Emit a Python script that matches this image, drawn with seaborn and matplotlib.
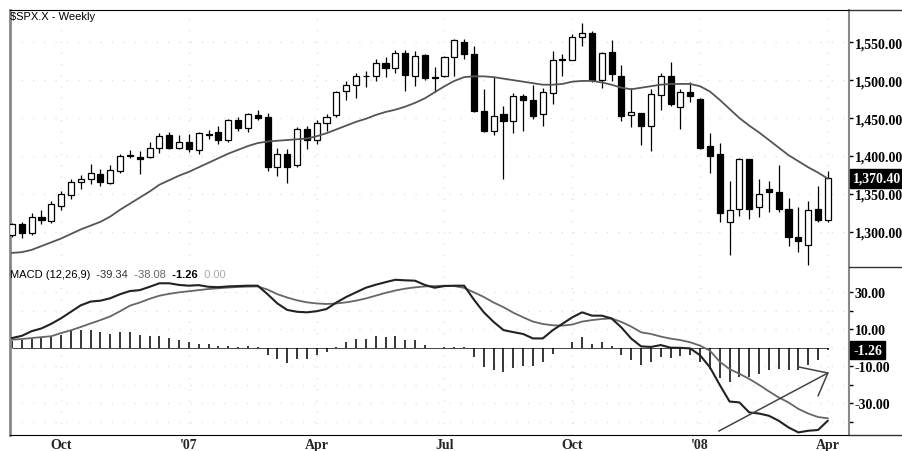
import numpy as np
import pandas as pd
import matplotlib
matplotlib.use('Agg')
import matplotlib.pyplot as plt
from matplotlib.lines import Line2D
import seaborn as sns

# weekly candles, week 0 = end of Aug 2006
opens = [1296, 1310, 1298, 1320, 1314, 1334, 1348, 1365, 1369, 1376,
         1364, 1380, 1400, 1399, 1398, 1410, 1427, 1410, 1418, 1408,
         1427.5, 1431, 1421.5, 1448, 1437, 1454, 1452, 1385, 1403, 1388,
         1436, 1421, 1443, 1454, 1486, 1494, 1505, 1505, 1522, 1516,
         1535.5, 1506, 1533, 1503, 1506, 1531, 1551, 1534.5, 1459, 1432.5,
         1455.5, 1446, 1479, 1474, 1455.5, 1483, 1526.5, 1527, 1556.5, 1562,
         1500, 1537, 1506, 1454, 1456, 1440, 1480, 1505, 1464, 1484,
         1475, 1413.5, 1402.5, 1312.5, 1330, 1396, 1332, 1356, 1353, 1330,
         1293, 1282.5, 1330, 1316]
highs = [1312, 1313, 1325, 1328, 1340, 1354, 1369, 1375, 1389, 1383,
         1388, 1403, 1408, 1406, 1418, 1430, 1431, 1427, 1429, 1431,
         1434, 1440, 1449, 1452, 1457, 1461, 1457, 1410, 1409, 1438,
         1440, 1447, 1455, 1486, 1498.5, 1509, 1512.5, 1528, 1531, 1540,
         1540, 1538, 1535, 1517, 1532, 1554, 1554, 1545.5, 1488, 1504.5,
         1466, 1483, 1482, 1494, 1489, 1539, 1534.5, 1561, 1576, 1565,
         1537, 1553, 1520, 1490, 1456, 1488, 1510, 1523.5, 1488, 1498,
         1476, 1430, 1417, 1367, 1397, 1396, 1369, 1367, 1388, 1344,
         1332, 1341, 1360, 1380.5]
lows = [1293, 1292, 1295, 1310, 1312, 1328, 1343, 1356, 1363, 1360,
        1363, 1378, 1397, 1376, 1397, 1404, 1409, 1409, 1405, 1402.5,
        1422, 1416, 1418, 1433, 1431, 1447.5, 1380.5, 1374, 1364, 1385,
        1409, 1416, 1433, 1452, 1474, 1476.5, 1490.5, 1498.5, 1504, 1510,
        1486, 1492, 1500, 1484, 1504, 1506, 1528, 1457.5, 1431, 1427,
        1370, 1430, 1432.5, 1449, 1439, 1468.5, 1506, 1526, 1545.5, 1497,
        1490, 1499, 1446.5, 1438, 1415, 1406, 1460, 1466, 1435.5, 1471,
        1409, 1378, 1312.5, 1269, 1321, 1317, 1320, 1326, 1325.5, 1281,
        1273, 1256, 1312.5, 1312.5]
closes = [1310, 1298, 1320, 1315, 1336, 1350, 1365, 1369, 1377.5, 1365,
          1382, 1400, 1400.5, 1396, 1410, 1426, 1410, 1418, 1409, 1430,
          1429, 1421.5, 1448, 1437, 1455, 1450, 1386, 1403, 1386, 1436,
          1421.5, 1443, 1452, 1484, 1494, 1505, 1505.5, 1522, 1516, 1535.5,
          1507, 1532, 1502.5, 1504, 1530, 1553, 1534.5, 1459, 1432.5, 1453,
          1446.5, 1479.5, 1474, 1453, 1484, 1526, 1527, 1557.5, 1562, 1500,
          1535.5, 1508, 1453, 1457.5, 1440, 1482, 1505, 1468, 1484, 1479,
          1411, 1400, 1325, 1329, 1396, 1330, 1350, 1353, 1330, 1293,
          1288, 1329, 1315, 1370.4]
moving_avg = [1272, 1273, 1276, 1281, 1286, 1291, 1297, 1303, 1308, 1313,
              1320, 1329, 1337, 1345, 1353, 1362, 1368, 1374, 1379, 1385,
              1391, 1397, 1403, 1408, 1413, 1417, 1419, 1420, 1421, 1422,
              1423, 1426, 1430, 1435, 1440, 1445, 1449, 1454, 1458, 1461,
              1465, 1470, 1476, 1484, 1492, 1499, 1504, 1505, 1505, 1504,
              1502, 1500, 1498, 1496, 1494, 1494, 1495, 1498, 1499, 1499,
              1497, 1494, 1490, 1488, 1490, 1492, 1494, 1495, 1495, 1495,
              1492, 1485, 1474, 1462, 1450, 1440, 1431, 1421, 1411, 1401,
              1393, 1385, 1378, 1370]

macd = [5.3, 6.5, 9.0, 10.5, 13, 16, 19.5, 23, 25, 25.5,
        26.8, 29, 30.7, 31.2, 33, 34.9, 34.9, 34, 33.6, 33.9,
        33, 32.8, 33.2, 33.4, 33.6, 33.6, 29, 24, 20.5, 19.5,
        19.2, 19.8, 21, 24.5, 27.5, 30, 32.5, 34.1, 35.5, 36.8,
        36.5, 36.3, 34, 32.5, 33.4, 33.6, 33.6, 26, 19.2, 14,
        9.6, 8.5, 7.5, 5.1, 5.1, 9.5, 13, 16.5, 19.2, 17.4,
        17.4, 15.9, 11, 5, 0.8, 0.5, 1.5, 0.1, 0, -0.3,
        -4, -10.5, -20, -29, -29.5, -34.9, -35.5, -36.7, -39.4, -43,
        -45.7, -44.8, -44.4, -39.34]
signal = [4.4, 4.8, 5.3, 5.8, 6.3, 8, 9.5, 11.3, 13.2, 15,
          17, 19.8, 22.8, 24.5, 26.5, 28.2, 29.2, 30, 30.6, 31.2,
          31.8, 32.2, 32.6, 32.9, 33.1, 33.2, 31.5, 29, 27.2, 25.7,
          24.6, 24, 23.7, 24, 24.6, 25.5, 26.7, 28.2, 29.7, 31,
          32, 32.7, 33.2, 33.4, 33.6, 33.4, 32.4, 30, 27.5, 24.5,
          22, 19, 16.5, 14.2, 12.9, 12.2, 12, 12.6, 14.2, 15,
          15.6, 15.9, 14, 11.5, 8.4, 7.5, 6.1, 5, 4.2, 3,
          1.2, -1.5, -7.5, -11.5, -14, -16.8, -20, -23.5, -26.8, -29.5,
          -33, -35.5, -37.4, -38.08]
histogram = [3.6, 4.1, 5.0, 5.6, 6.3, 7.2, 9.0, 9.5, 9.9, 8.3,
             7.7, 8.6, 8.3, 7.2, 6.5, 6.5, 5.4, 4.3, 2.9, 2.3,
             2.0, 1.1, 1.1, 0.5, 0.9, 0.5, -4.0, -5.8, -8.1, -6.1,
             -5.8, -4.0, -2.2, 0.4, 2.9, 5.0, 5.0, 6.3, 5.9, 6.3,
             4.5, 4.1, 1.4, 0.0, 0.3, 0.5, 0.3, -4.9, -10.3, -12.1,
             -13.0, -10.8, -9.7, -9.7, -7.6, -3.1, 0.0, 3.2, 5.6, 2.3,
             2.9, 0.9, -4.0, -6.3, -9.4, -7.6, -5.0, -5.4, -4.3, -4.0,
             -7.6, -11.2, -16.2, -18.4, -16.0, -15.7, -13.9, -12.1, -11.5, -12.1,
             -12.1, -9.0, -6.7, -1.26]

# hand-drawn trendlines on the MACD pane (week, value)
trend_a_x = [71.9, 83]
trend_a_y = [-45, -13.6]
trend_b_x = [80, 83, 82]
trend_b_y = [-10.3, -13.6, -26]

date_ticks = [5, 18, 31, 44, 57, 70, 83]
date_labels = ['Oct', "'07", 'Apr', 'Jul', 'Oct', "'08", 'Apr']
month_ticks = [1, 9, 13, 22, 26, 35, 39, 48, 53, 61, 66, 74, 79]
price_ticks = [1300, 1350, 1400, 1450, 1500, 1550]
macd_ticks = [30, 10, -10, -30]
macd_minor = [20, 0, -20, -40]

sns.set_style('white')
plt.rcParams['font.family'] = ['Liberation Sans', 'DejaVu Sans']

weeks = np.arange(len(closes))
df = pd.DataFrame({'week': weeks, 'open': opens, 'high': highs, 'low': lows,
                   'close': closes, 'ma': moving_avg, 'macd': macd,
                   'signal': signal, 'hist': histogram})

W, H = 903, 452
fig = plt.figure(figsize=(W / 100, H / 100), dpi=100)
ax = fig.add_axes([10 / W, (H - 268) / H, 839 / W, 257 / H])
ax2 = fig.add_axes([10 / W, (H - 436) / H, 839 / W, 168 / H], sharex=ax)

grid_kw = dict(color='#dddddd', linestyle=(0, (1, 8)), linewidth=0.9)
serif_bold = dict(family='Liberation Serif', weight='bold', size=10)

# price pane
ax.vlines(df['week'], df['low'], df['high'], color='black', linewidth=0.9, zorder=2)
up = df['close'] >= df['open']
body = (df['close'] - df['open']).abs().clip(lower=0.9)
base = df[['open', 'close']].min(axis=1)
ax.bar(df['week'][up], body[up], bottom=base[up], width=0.62,
       color='white', edgecolor='black', linewidth=0.9, zorder=3)
ax.bar(df['week'][~up], body[~up], bottom=base[~up], width=0.62,
       color='black', edgecolor='black', linewidth=0.9, zorder=3)
sns.lineplot(data=df, x='week', y='ma', ax=ax, color='#555555',
             linewidth=1.3, zorder=4)

ax.set_xlim(-0.2, 85.15)
ax.set_ylim(1253.4, 1592.6)
ax.yaxis.tick_right()
ax.set_yticks(price_ticks)
ax.set_yticklabels([f'{v:,.2f}' for v in price_ticks], fontdict=serif_bold)
ax.tick_params(axis='y', direction='out', length=3, width=1, pad=1, colors='black')
ax.tick_params(axis='x', bottom=False, labelbottom=False)
ax.set_xticks(date_ticks)
for v in price_ticks:
    ax.axhline(v, zorder=0, **grid_kw)
for v in date_ticks:
    ax.axvline(v, zorder=0, **grid_kw)
ax.set_xlabel('')
ax.set_ylabel('')
ax.text(0.0, 0.995, '$SPX.X - Weekly', transform=ax.transAxes, ha='left',
        va='top', fontsize=8, color='black')
ax.annotate('1,370.40', xy=(1.0, closes[-1]), xycoords=('axes fraction', 'data'),
            xytext=(3, 0), textcoords='offset points', ha='left', va='center',
            color='white', annotation_clip=False,
            bbox=dict(boxstyle='square,pad=0.2', fc='black', ec='black'),
            **serif_bold)

# MACD pane
ax2.hlines(0, 0, weeks[-1], color='#444444', linewidth=0.7, zorder=1)
ax2.vlines(df['week'], 0, df['hist'], color='black', linewidth=1.1, zorder=2)
sns.lineplot(data=df, x='week', y='signal', ax=ax2, color='#666666',
             linewidth=1.3, zorder=3)
sns.lineplot(data=df, x='week', y='macd', ax=ax2, color='#222222',
             linewidth=1.5, zorder=4)
ax2.plot(trend_a_x, trend_a_y, color='#444444', linewidth=1.1, zorder=5)
ax2.plot(trend_b_x, trend_b_y, color='#444444', linewidth=1.1, zorder=5)

ax2.set_ylim(-47.1, 43.7)
ax2.yaxis.tick_right()
ax2.set_yticks(macd_ticks)
ax2.set_yticks(macd_minor, minor=True)
ax2.set_yticklabels([f'{v:.2f}' for v in macd_ticks], fontdict=serif_bold)
ax2.tick_params(axis='y', which='both', direction='out', length=3, width=1,
                pad=1, colors='black')
ax2.set_xticks(date_ticks)
ax2.set_xticks(month_ticks, minor=True)
ax2.set_xticklabels(date_labels, fontdict=serif_bold)
ax2.tick_params(axis='x', which='major', direction='in', length=5, width=1, pad=2)
ax2.tick_params(axis='x', which='minor', direction='in', length=3, width=1)
for v in macd_ticks + macd_minor:
    ax2.axhline(v, zorder=0, **grid_kw)
for v in date_ticks:
    ax2.axvline(v, zorder=0, **grid_kw)
ax2.set_xlabel('')
ax2.set_ylabel('')

parts = [('MACD (12,26,9)', '#000000', 'normal'), ('  -39.34', '#333333', 'normal'),
         ('  -38.08', '#666666', 'normal'), ('  -1.26', '#000000', 'bold'),
         ('  0.00', '#aaaaaa', 'normal')]
txt = ax2.text(0.0, 0.99, parts[0][0], transform=ax2.transAxes, ha='left',
               va='top', fontsize=8, color=parts[0][1])
for s, c, w in parts[1:]:
    txt = ax2.annotate(s, xy=(1, 0), xycoords=txt, va='bottom', ha='left',
                       fontsize=8, color=c, weight=w)

ax2.annotate('-1.26', xy=(1.0, histogram[-1]), xycoords=('axes fraction', 'data'),
             xytext=(3, 0), textcoords='offset points', ha='left', va='center',
             color='white', annotation_clip=False,
             bbox=dict(boxstyle='square,pad=0.2', fc='black', ec='black'),
             **serif_bold)

for a in (ax, ax2):
    a.spines['left'].set_color('#888888')
    a.spines['left'].set_linewidth(2)
    a.spines['right'].set_color('#888888')
    a.spines['right'].set_linewidth(1.5)
ax.spines['top'].set_color('black')
ax.spines['bottom'].set_visible(False)
ax2.spines['top'].set_visible(False)
ax2.spines['bottom'].set_color('black')

for ypix in (11, 268, 436):
    yf = (H - ypix) / H
    fig.add_artist(Line2D([849 / W, 1.0], [yf, yf], color='#333333', linewidth=1))

fig.savefig('out.png', dpi=100)
